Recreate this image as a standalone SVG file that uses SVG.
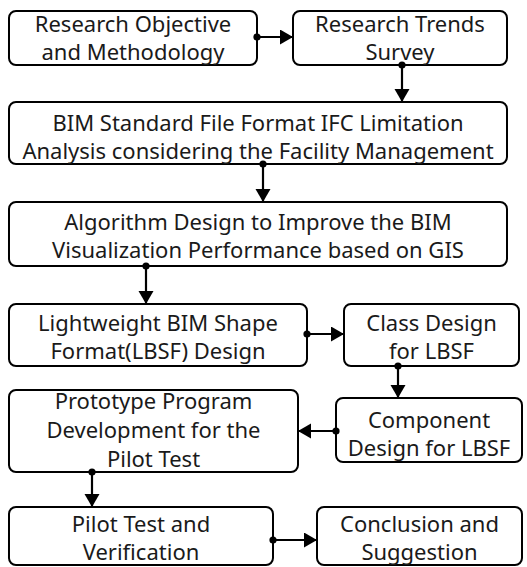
<svg xmlns="http://www.w3.org/2000/svg" width="527" height="567" viewBox="0 0 527 567">
<style>
.box{fill:#fff;stroke:#000;stroke-width:2}
.t{font-family:"Noto Sans","Open Sans",sans-serif;font-size:22px;fill:#1a1a1a;text-anchor:middle}
.c{stroke:#000;stroke-width:2.2;fill:none;marker-end:url(#ah)}
.d{fill:#000}
</style>
<defs>
<marker id="ah" markerUnits="userSpaceOnUse" markerWidth="14" markerHeight="16" refX="13" refY="7.5" orient="auto">
<path d="M0,0 L13,7.5 L0,15 z" fill="#000"/>
</marker>
</defs>
<rect width="527" height="567" fill="#fff"/>
<g id="n1"><rect class="box" x="9" y="11" width="248" height="54" rx="7"/><text class="t" x="133" y="32">Research Objective</text><text class="t" x="133" y="60">and Methodology</text></g>
<g id="n2"><rect class="box" x="293" y="11" width="214" height="54" rx="7"/><text class="t" x="400" y="32">Research Trends</text><text class="t" x="400" y="60">Survey</text></g>
<g id="n3"><rect class="box" x="9" y="102" width="498" height="62" rx="7"/><text class="t" x="258" y="131">BIM Standard File Format IFC Limitation</text><text class="t" x="258" y="159">Analysis considering the Facility Management</text></g>
<g id="n4"><rect class="box" x="9" y="202" width="498" height="64" rx="7"/><text class="t" x="258" y="230">Algorithm Design to Improve the BIM</text><text class="t" x="258" y="258">Visualization Performance based on GIS</text></g>
<g id="n5"><rect class="box" x="9" y="304" width="298" height="62" rx="7"/><text class="t" x="158" y="331">Lightweight BIM Shape</text><text class="t" x="158" y="359">Format(LBSF) Design</text></g>
<g id="n6"><rect class="box" x="344" y="304" width="175" height="62" rx="7"/><text class="t" x="431.5" y="331">Class Design</text><text class="t" x="431.5" y="359">for LBSF</text></g>
<g id="n7"><rect class="box" x="336" y="398" width="186" height="64" rx="7"/><text class="t" x="429" y="428">Component</text><text class="t" x="429" y="456">Design for LBSF</text></g>
<g id="n8"><rect class="box" x="9" y="390" width="289" height="82" rx="7"/><text class="t" x="153.5" y="409">Prototype Program</text><text class="t" x="153.5" y="438">Development for the</text><text class="t" x="153.5" y="467">Pilot Test</text></g>
<g id="n9"><rect class="box" x="9" y="507" width="264" height="58" rx="7"/><text class="t" x="141" y="532">Pilot Test and</text><text class="t" x="141" y="560">Verification</text></g>
<g id="n10"><rect class="box" x="317" y="507" width="205" height="58" rx="7"/><text class="t" x="419.5" y="532">Conclusion and</text><text class="t" x="419.5" y="560">Suggestion</text></g>
<g id="connectors">
<path class="c" d="M257,37 H293"/><circle class="d" cx="257" cy="37" r="3.6"/>
<path class="c" d="M402,65 V102"/><circle class="d" cx="402" cy="65" r="3.6"/>
<path class="c" d="M263,164 V202"/><circle class="d" cx="263" cy="164" r="3.6"/>
<path class="c" d="M146,266 V304"/><circle class="d" cx="146" cy="266" r="3.6"/>
<path class="c" d="M307,334 H344"/><circle class="d" cx="307" cy="334" r="3.6"/>
<path class="c" d="M398,366 V398"/><circle class="d" cx="398" cy="366" r="3.6"/>
<path class="c" d="M336,431 H298"/><circle class="d" cx="336" cy="431" r="3.6"/>
<path class="c" d="M92,472 V507"/><circle class="d" cx="92" cy="472" r="3.6"/>
<path class="c" d="M273,540 H317"/><circle class="d" cx="273" cy="540" r="3.6"/>
</g>
</svg>
